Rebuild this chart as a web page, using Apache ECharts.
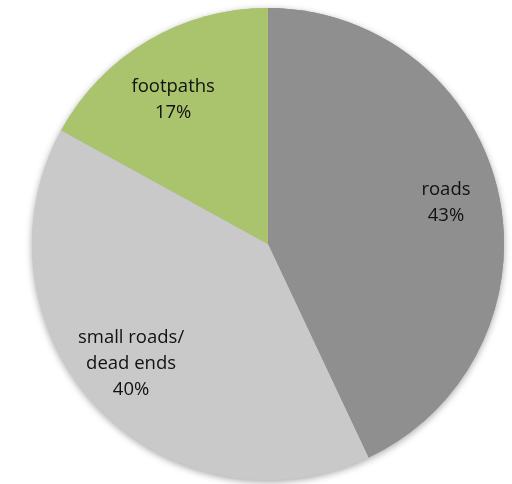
<!DOCTYPE html>
<html>
<head>
<meta charset="utf-8">
<script src="https://cdn.jsdelivr.net/npm/echarts@6/dist/echarts.min.js"></script>
<style>
  html, body { margin: 0; padding: 0; background: #ffffff; }
  #chart { width: 512px; height: 484px; }
</style>
</head>
<body>
<div id="chart"></div>
<script>
// Share of network length by path type
const categories = ['roads', 'small roads/\ndead ends', 'footpaths'];
const shares = [43, 40, 17];
const sliceColors = ['#8f8f8f', '#c9c9c9', '#a9c46c'];
// small nudges so each label sits comfortably inside its slice
const labelOffsets = [[0, -1], [-4, -5], [-2, 13]];

const data = categories.map((name, i) => ({
  name: name,
  value: shares[i],
  itemStyle: { color: sliceColors[i] }
}));

const center = [268, 244];
const radius = 236;

const chart = echarts.init(document.getElementById('chart'), null, { renderer: 'canvas' });
chart.setOption({
  animation: false,
  backgroundColor: '#ffffff',
  series: [
    {
      // soft drop shadow underneath the pie
      type: 'pie',
      center: center,
      radius: radius,
      startAngle: 90,
      clockwise: true,
      silent: true,
      label: { show: false },
      labelLine: { show: false },
      data: data.map(d => ({
        name: d.name,
        value: d.value,
        itemStyle: {
          color: d.itemStyle.color,
          shadowBlur: 7,
          shadowOffsetY: 2,
          shadowColor: 'rgba(0,0,0,0.35)'
        }
      }))
    },
    {
      type: 'pie',
      center: center,
      radius: radius,
      startAngle: 90,
      clockwise: true,
      silent: true,
      itemStyle: { borderWidth: 0 },
      label: { show: false },
      labelLine: { show: false },
      data: data
    },
    {
      // transparent ring that places the labels at about 3/4 of the radius
      type: 'pie',
      center: center,
      radius: [radius * 0.52, radius],
      startAngle: 90,
      clockwise: true,
      silent: true,
      itemStyle: { color: 'rgba(0,0,0,0)' },
      labelLine: { show: false },
      label: {
        show: true,
        position: 'inside',
        formatter: '{b}\n{d}%',
        fontFamily: 'Open Sans',
        fontSize: 18.5,
        lineHeight: 26,
        color: '#111111',
        align: 'center'
      },
      data: data.map((d, i) => ({
        name: d.name,
        value: d.value,
        label: { offset: labelOffsets[i] }
      }))
    }
  ]
});
</script>
</body>
</html>
